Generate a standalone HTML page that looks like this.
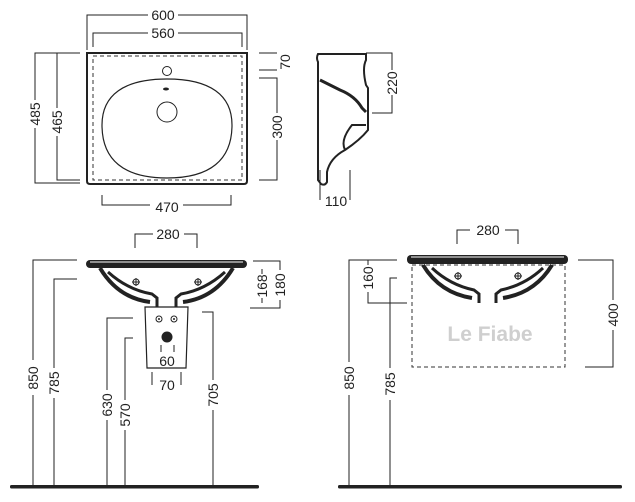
<!DOCTYPE html>
<html><head><style>html,body{margin:0;padding:0;background:#fff}svg{display:block}text{font-family:"Liberation Sans",sans-serif;fill:#222}</style></head><body>
<svg width="635" height="502" viewBox="0 0 635 502" xmlns="http://www.w3.org/2000/svg">
<g fill="none" stroke="#222" stroke-width="1">
<polyline points="87,50 87,15 148,15"/><polyline points="178,15 247,15 247,50"/>
<polyline points="93,47 93,33 148,33"/><polyline points="178,33 242,33 242,47"/>
<polyline points="80,53 35,53 35,100"/><polyline points="35,128 35,183 80,183"/>
<polyline points="80,53 57,53 57,108"/><polyline points="57,136 57,180 80,180"/>
<polyline points="259,53 277,53"/><polyline points="259,70 277,70"/>
<polyline points="259,78 277,78 277,113"/><polyline points="277,140 277,180 259,180"/>
<polyline points="102,195 102,205 150,205"/><polyline points="183,205 231,205 231,195"/>
</g>
<path d="M87,53 H247 V181 Q247,184 244,184 H90 Q87,184 87,181 Z" fill="none" stroke="#222" stroke-width="2"/>
<rect x="93" y="56" width="149" height="124" fill="none" stroke="#333" stroke-width="1" stroke-dasharray="4,3"/>
<circle cx="167" cy="71" r="4.5" fill="none" stroke="#222"/>
<ellipse cx="166" cy="89" rx="3" ry="1.5" fill="#222"/>
<circle cx="167" cy="112" r="10" fill="none" stroke="#222"/>
<path d="M167,79 C210,79 232,95 232,125 C232,160 210,178 167,178 C124,178 102,160 102,125 C102,95 124,79 167,79 Z" fill="none" stroke="#222" stroke-width="1.2"/>
<text x="163" y="20" font-size="14" text-anchor="middle">600</text>
<text x="163" y="38" font-size="14" text-anchor="middle">560</text>
<text x="167" y="212" font-size="14" text-anchor="middle">470</text>
<text transform="translate(40,114) rotate(-90)" font-size="14" text-anchor="middle">485</text>
<text transform="translate(62,122) rotate(-90)" font-size="14" text-anchor="middle">465</text>
<text transform="translate(290,62) rotate(-90)" font-size="14" text-anchor="middle">70</text>
<text transform="translate(282,127) rotate(-90)" font-size="14" text-anchor="middle">300</text>
<path d="M318,54 L366,54 L366,60 Q362,68 366,85 L368,88 L368,130 Q360,140 345,150 Q330,158 327,172 L327,182 Q325,186 321,184 L318,180 L318,62 Q316,58 318,54 Z" fill="none" stroke="#222" stroke-width="2"/>
<path d="M320,80 L340,90 Q355,96 362,108 L366,112" fill="none" stroke="#222" stroke-width="3"/>
<path d="M366,125 L352,125 Q340,140 345,150" fill="none" stroke="#222" stroke-width="2"/>
<g fill="none" stroke="#222"><polyline points="366,53 392,53 392,70"/><polyline points="392,95 392,113 372,113"/><polyline points="320,170 320,200"/><polyline points="350,170 350,200"/></g>
<text transform="translate(397,83) rotate(-90)" font-size="14" text-anchor="middle">220</text>
<text x="336" y="206" font-size="14" text-anchor="middle">110</text>
<g fill="none" stroke="#222"><polyline points="135,248 135,234 153,234"/><polyline points="184,234 197,234 197,248"/>
<polyline points="77,260 33,260 33,360"/><polyline points="33,395 33,487"/>
<polyline points="77,279 54,279 54,368"/><polyline points="54,398 54,487"/>
<polyline points="133,318 107,318 107,390"/><polyline points="107,420 107,487"/>
<polyline points="133,338 125,338 125,400"/><polyline points="125,430 125,487"/>
<polyline points="202,312 213,312 213,380"/><polyline points="213,410 213,487"/>
<polyline points="253,261 280,261 280,270"/><polyline points="280,300 280,308 250,308"/>
<polyline points="262,269 262,274"/><polyline points="262,298 262,303"/>
<polyline points="161,345 161,352"/><polyline points="174,345 174,352"/>
<polyline points="152,372 152,385"/><polyline points="181,372 181,385"/></g>
<rect x="86" y="260" width="161" height="8" rx="4" fill="#222"/>
<line x1="90" y1="262" x2="243" y2="262" stroke="#fff" stroke-width="1"/>
<path d="M100,268 Q118,298 150,302 M233,268 Q215,298 183,302" fill="none" stroke="#222" stroke-width="4"/>
<path d="M108,272 Q128,290 152,294 L157,298 L157,307 M225,272 Q205,290 181,294 L176,298 L176,307" fill="none" stroke="#222" stroke-width="3"/>
<path d="M145,307 L188,307 L186,368 L147,368 Z" fill="none" stroke="#222" stroke-width="1.2"/>
<circle cx="167" cy="337" r="5.5" fill="#222"/>
<circle cx="159" cy="319" r="3" fill="none" stroke="#222"/><circle cx="159" cy="319" r="1" fill="#222"/>
<circle cx="174" cy="319" r="3" fill="none" stroke="#222"/><circle cx="174" cy="319" r="1" fill="#222"/>
<g stroke="#222" fill="none"><circle cx="136" cy="282" r="3"/><line x1="132" y1="282" x2="140" y2="282"/><line x1="136" y1="278" x2="136" y2="286"/><circle cx="198" cy="282" r="3"/><line x1="194" y1="282" x2="202" y2="282"/><line x1="198" y1="278" x2="198" y2="286"/></g>
<rect x="10" y="485" width="249" height="3.5" rx="1.5" fill="#222"/>
<text x="168" y="239" font-size="14" text-anchor="middle">280</text>
<text x="167" y="366" font-size="14" text-anchor="middle">60</text>
<text x="167" y="390" font-size="14" text-anchor="middle">70</text>
<text transform="translate(38,378) rotate(-90)" font-size="14" text-anchor="middle">850</text>
<text transform="translate(59,383) rotate(-90)" font-size="14" text-anchor="middle">785</text>
<text transform="translate(112,405) rotate(-90)" font-size="14" text-anchor="middle">630</text>
<text transform="translate(130,415) rotate(-90)" font-size="14" text-anchor="middle">570</text>
<text transform="translate(218,395) rotate(-90)" font-size="14" text-anchor="middle">705</text>
<text transform="translate(267,286) rotate(-90)" font-size="14" text-anchor="middle">168</text>
<text transform="translate(285,285) rotate(-90)" font-size="14" text-anchor="middle">180</text>
<rect x="412" y="265" width="153" height="102" fill="none" stroke="#333" stroke-dasharray="4,3"/>
<rect x="407" y="255" width="161" height="9" rx="4" fill="#222"/>
<line x1="411" y1="257" x2="564" y2="257" stroke="#fff"/>
<path d="M423,265 Q440,293 472,298 M552,265 Q535,293 503,298" fill="none" stroke="#222" stroke-width="4"/>
<path d="M432,268 Q450,285 474,290 L479,294 L479,303 M543,268 Q525,285 501,290 L496,294 L496,303" fill="none" stroke="#222" stroke-width="3"/>
<g stroke="#222" fill="none"><circle cx="458" cy="276" r="3"/><line x1="454" y1="276" x2="462" y2="276"/><line x1="458" y1="272" x2="458" y2="280"/><circle cx="518" cy="276" r="3"/><line x1="514" y1="276" x2="522" y2="276"/><line x1="518" y1="272" x2="518" y2="280"/>
<polyline points="457,244 457,230 470,230"/><polyline points="505,230 518,230 518,244"/>
<polyline points="397,260 349,260 349,362"/><polyline points="349,395 349,487"/>
<polyline points="397,278 390,278 390,368"/><polyline points="390,400 390,487"/>
<polyline points="397,260 368,260 368,265"/><polyline points="368,292 368,303 407,303"/>
<polyline points="578,260 613,260 613,300"/><polyline points="613,330 613,367 585,367"/></g>
<text x="490" y="341" font-size="21" font-weight="bold" style="fill:#cfcfcf" text-anchor="middle">Le Fiabe</text>
<rect x="338" y="485" width="284" height="3.5" rx="1.5" fill="#222"/>
<text x="488" y="235" font-size="14" text-anchor="middle">280</text>
<text transform="translate(354,378) rotate(-90)" font-size="14" text-anchor="middle">850</text>
<text transform="translate(395,384) rotate(-90)" font-size="14" text-anchor="middle">785</text>
<text transform="translate(373,278) rotate(-90)" font-size="14" text-anchor="middle">160</text>
<text transform="translate(618,315) rotate(-90)" font-size="14" text-anchor="middle">400</text>
</svg>
</body></html>
